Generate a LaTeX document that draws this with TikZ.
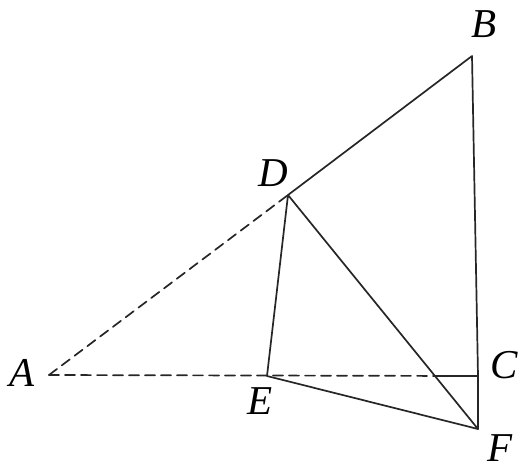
\documentclass[tikz,border=0pt]{standalone}
\usepackage{fontspec}
\setmainfont{Liberation Serif}
\begin{document}
\begin{tikzpicture}[x=1pt,y=-1pt,
  seg/.style={line width=1.7pt, line cap=round, line join=round, draw=black!85},
  dseg/.style={seg, dash pattern=on 10pt off 6pt},
  lab/.style={font=\fontsize{41}{46}\selectfont\itshape, inner sep=0pt}]
\useasboundingbox (0,0) rectangle (526,471);
\coordinate (A) at (49,375);
\coordinate (B) at (472,56);
\coordinate (C) at (478,376);
\coordinate (D) at (288,195);
\coordinate (E) at (267,376);
\coordinate (F) at (478,429);
\coordinate (X) at (intersection of D--F and A--C);
\draw[dseg] (A) -- (D);
\draw[dseg] (A) -- (X);
\draw[seg] (X) -- (C);
\draw[seg] (D) -- (B) -- (C) -- (F);
\draw[seg] (D) -- (E) -- (F) -- cycle;
\node[lab] (lA) at (22,373) {A};
\node[lab] (lB) at (484,24) {B};
\node[lab] (lC) at (504,365) {C};
\node[lab] (lD) at (273,173) {D};
\node[lab] (lE) at (260,401) {E};
\node[lab] (lF) at (500,448) {F};
\end{tikzpicture}
\end{document}
